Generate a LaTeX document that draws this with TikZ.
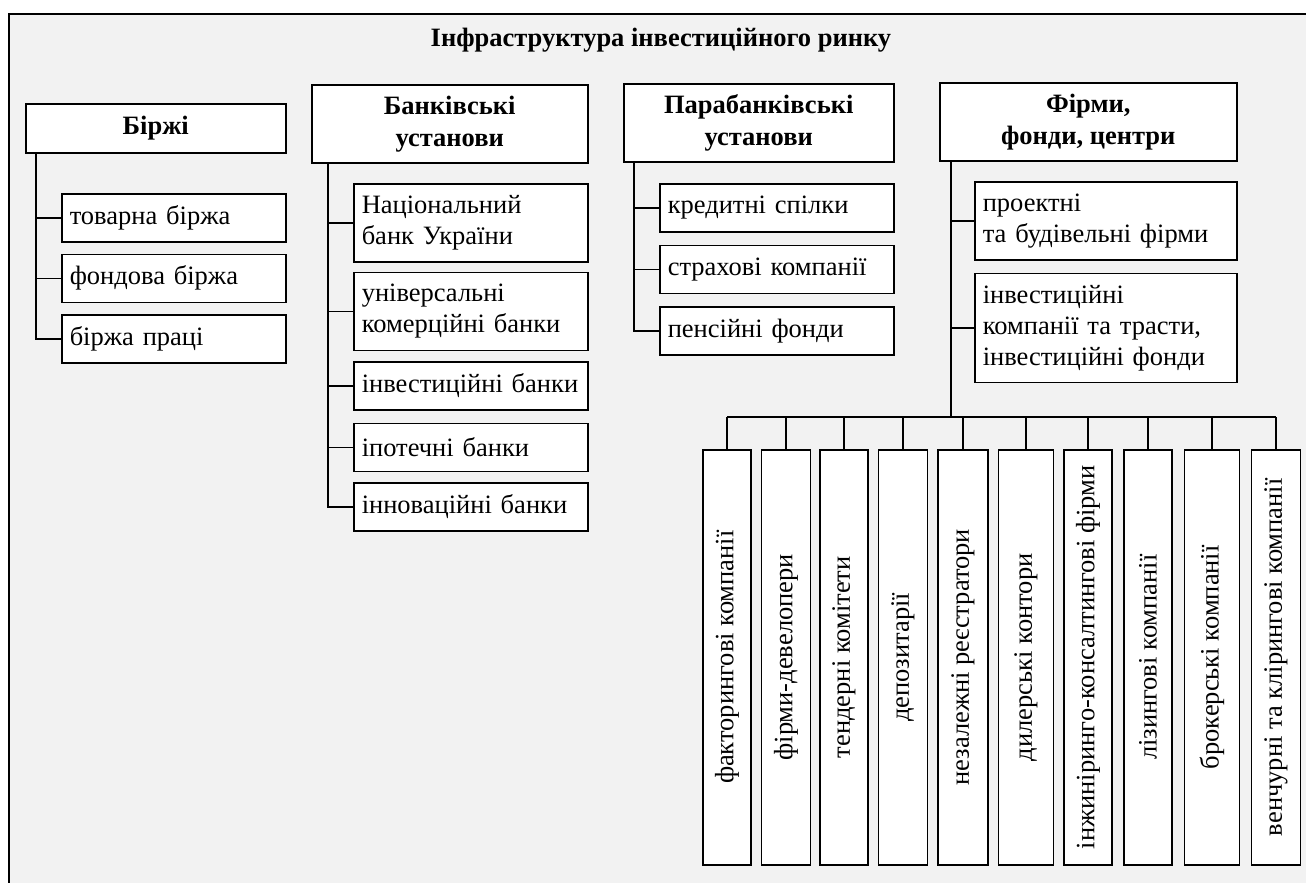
\documentclass[tikz,border=0pt]{standalone}
\usepackage{fontspec}
\setmainfont{Liberation Serif}
\usepackage{graphicx}
\usetikzlibrary{positioning,calc}
\definecolor{bggray}{HTML}{F2F2F2}

\begin{document}
\begin{tikzpicture}[x=1pt,y=-1pt,node distance=11pt,font=\fontsize{26.5}{31}\selectfont,line width=1.5pt,hdr/.style={draw,fill=white,font=\fontsize{26.5}{32}\selectfont\bfseries,align=center,inner sep=0pt,minimum height=78pt,anchor=north west},item/.style={draw,fill=white,align=left,inner xsep=8pt,inner ysep=0pt,minimum height=48pt},vbox/.style={draw,fill=white,inner sep=0pt,minimum height=415pt,anchor=north}]
\useasboundingbox (0,0) rectangle (1306,883);
\fill[bggray] (9,14) rectangle (1306,883);
\draw (9,883) -- (9,14) -- (1306,14);
\node[font=\fontsize{26.5}{31}\selectfont\bfseries,anchor=base] (title) at (661,47) {Інфраструктура інвестиційного ринку};
% headers
\node[hdr,minimum width=260pt,minimum height=49pt] (bir) at (25,103) {Біржі};
\node[hdr,minimum width=276pt] (bank) at (311,84) {Банківські\\установи};
\node[hdr,minimum width=270pt] (para) at (623,83) {Парабанківські\\установи};
\node[hdr,minimum width=297pt] (fir) at (939,82) {Фірми,\\фонди, центри};
% exchanges
\node[item,text width=208pt,anchor=north west] (bir1) at (61,193) {товарна біржа};
\node[item,text width=208pt,below=of bir1] (bir2) {фондова біржа};
\node[item,text width=208pt,below=of bir2] (bir3) {біржа праці};
% banks
\node[item,text width=218pt,minimum height=78pt,anchor=north west] (bank1) at (353,183) {Національний\\банк України};
\node[item,text width=218pt,minimum height=78pt,below=9pt of bank1] (bank2) {універсальні\\комерційні банки};
\node[item,text width=218pt,below=10pt of bank2] (bank3) {інвестиційні банки};
\node[item,text width=218pt,below=12pt of bank3] (bank4) {іпотечні банки};
\node[item,text width=218pt,below=10pt of bank4] (bank5) {інноваційні банки};
% parabanks
\node[item,text width=218pt,anchor=north west] (para1) at (659,183) {кредитні спілки};
\node[item,text width=218pt,below=12pt of para1] (para2) {страхові компанії};
\node[item,text width=218pt,below=12pt of para2] (para3) {пенсійні фонди};
% firms
\node[item,text width=246pt,minimum height=78pt,anchor=north west] (fir1) at (974,181) {проектні\\та будівельні фірми};
\node[item,text width=246pt,minimum height=109pt,below=12pt of fir1] (fir2) {інвестиційні\\компанії та трасти,\\інвестиційні фонди};
\foreach \cx/\w/\txt [count=\i] in {727/48/факторингові компанії,786/49/фірми-девелопери,844/48/тендерні комітети,903/49/депозитарії,963/50/незалежні реєстратори,1026/55/дилерські контори,1088/48/інжиніринго-консалтингові фірми,1148/48/лізингові компанії,1212/55/брокерські компанії,1276/49/венчурні та клірингові компанії}
  \node[vbox,minimum width=\w pt] (v\i) at (\cx,449) {\rotatebox{90}{\txt}};
% trunks
\coordinate (birT) at ($(bir.south west)+(11,0)$);
\coordinate (bankT) at ($(bank.south west)+(17,0)$);
\coordinate (paraT) at ($(para.south west)+(11,0)$);
\coordinate (firT) at ($(fir.south west)+(12,0)$);
\coordinate (bar) at (951,417);
\draw (birT) |- (bir3.west); \draw (bir1.west) -- (bir1.west -| birT); \draw (bir2.west) -- (bir2.west -| birT);
\draw (bankT) |- (bank5.west); \foreach \i in {1,...,4} \draw (bank\i.west) -- (bank\i.west -| bankT);
\draw (paraT) |- (para3.west); \draw (para1.west) -- (para1.west -| paraT); \draw (para2.west) -- (para2.west -| paraT);
\draw (firT) -- (bar); \draw (fir1.west) -- (fir1.west -| firT); \draw (fir2.west) -- (fir2.west -| firT);
\draw (v1.north |- bar) -- (v10.north |- bar);
\foreach \i in {1,...,10} \draw (v\i.north) -- (v\i.north |- bar);
\end{tikzpicture}
\end{document}
